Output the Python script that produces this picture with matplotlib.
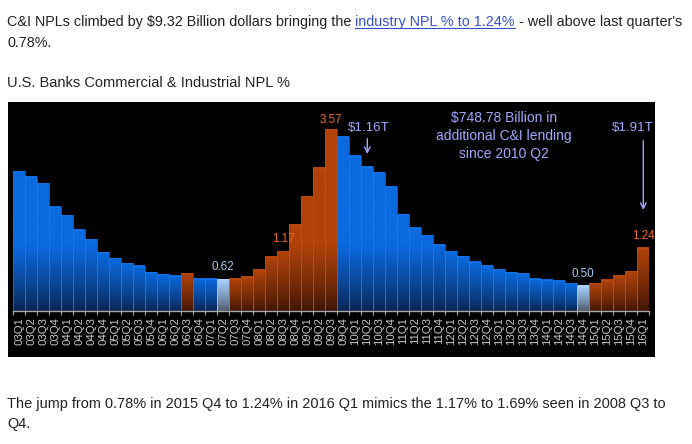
import matplotlib
matplotlib.use("Agg")
import matplotlib.pyplot as plt
import numpy as np
from matplotlib.colors import LinearSegmentedColormap
from matplotlib.patches import Rectangle
from matplotlib.lines import Line2D

plt.rcParams['font.family'] = ['Liberation Sans', 'DejaVu Sans']

######################################################################
# DATA  (C&I non-performing loans, % of loans, 2003 Q1 .. 2016 Q1)

quarters = ["%02dQ%d" % (y, q) for y in range(3, 16) for q in range(1, 5)] + ["16Q1"]

npl_pct = [2.75, 2.64, 2.51, 2.05,
           1.88, 1.60, 1.41, 1.15,
           1.04, 0.94, 0.89, 0.76,
           0.72, 0.69, 0.74, 0.63,
           0.63, 0.62, 0.63, 0.67,
           0.81, 1.07, 1.17, 1.69,
           2.25, 2.81, 3.57, 3.42,
           3.05, 2.83, 2.72, 2.44,
           1.90, 1.64, 1.49, 1.30,
           1.17, 1.08, 0.97, 0.89,
           0.82, 0.76, 0.74, 0.63,
           0.61, 0.59, 0.55, 0.50,
           0.55, 0.61, 0.69, 0.78,
           1.24]

# b = falling (blue), o = rising (orange), l = local low (light blue)
bar_kind = (["b"] * 14 + ["o"] + ["b"] * 2 + ["l"] + ["o"] * 9
            + ["b"] * 20 + ["l"] + ["o"] * 5)

labelled = {26: "3.57", 22: "1.17", 17: "0.62", 47: "0.50", 52: "1.24"}

######################################################################
# FIGURE

W, H = 692, 444
fig = plt.figure(figsize=(W / 100, H / 100), dpi=100)
fig.patch.set_facecolor("white")

def fx(px):
    return px / W

def fy(py):
    return 1 - py / H

# black chart panel
bg = fig.add_axes([fx(8), fy(357), (655 - 8) / W, (357 - 102) / H], zorder=0)
bg.set_facecolor("black")
bg.set_xticks([])
bg.set_yticks([])
for s in bg.spines.values():
    s.set_visible(False)

ax = fig.add_axes([fx(13.3), fy(311), (649.3 - 13.3) / W, (311 - 102) / H], zorder=1)
ax.patch.set_alpha(0)

top_col = {"b": "#0a6ade", "o": "#b0420a", "l": "#a8d2ff"}
bot_col = {"b": "#0a2450", "o": "#3e1505", "l": "#4a5668"}
edge_col = {"b": "#1a78ee", "o": "#c05010", "l": "#b8dcff"}
cmaps = {k: LinearSegmentedColormap.from_list(k, [bot_col[k], top_col[k]]) for k in top_col}

for i, (h, k) in enumerate(zip(npl_pct, bar_kind)):
    ys = np.linspace(0, h, 80)
    t = np.clip(ys / min(h, 1.3), 0, 1) ** 0.8
    ax.imshow(t[:, None], cmap=cmaps[k], vmin=0, vmax=1, origin="lower",
              extent=(i - 0.5, i + 0.5, 0, h), aspect="auto",
              interpolation="bilinear", zorder=2)
    ax.add_patch(Rectangle((i - 0.5, 0), 1, h, fill=False, ec=edge_col[k],
                           lw=0.5, zorder=3))

ax.set_xlim(-0.5, len(npl_pct) - 0.5)
ax.set_ylim(0, 209 / 50.9)

for s in ["top", "left", "right"]:
    ax.spines[s].set_visible(False)
ax.spines["bottom"].set_color("#a8a8a8")
ax.spines["bottom"].set_linewidth(1.0)
ax.set_yticks([])
ax.set_xticks(range(len(quarters)))
ax.set_xticklabels(quarters, rotation=90, fontsize=8.2, color="#c8c8c8")
ax.tick_params(axis="x", which="major", length=0, pad=4.5)
ax.set_xticks(np.arange(-0.5, len(quarters)), minor=True)
ax.tick_params(axis="x", which="minor", length=3, color="#a8a8a8", width=0.8)

# value labels
for i, s in labelled.items():
    k = bar_kind[i]
    c = "#f06a20" if k == "o" else "#a8c8f0"
    gap = 6 if i == 26 else 9
    ax.annotate(s, xy=(i, npl_pct[i]), xytext=(0, gap), textcoords="offset pixels",
                ha="center", va="baseline", color=c, fontsize=8.4, zorder=5)

# lending notes
lav = "#a4a8ff"
ax.text(29.1, 3.6, "$1.16T", ha="center", va="center", color=lav, fontsize=9.6)
ax.annotate("", xy=(29, 3.03), xytext=(29, 3.44),
            arrowprops=dict(arrowstyle="->", color=lav, lw=1))
ax.text(51.1, 3.6, "$1.91T", ha="center", va="center", color=lav, fontsize=9.6)
ax.annotate("", xy=(52, 1.93), xytext=(52, 3.40),
            arrowprops=dict(arrowstyle="->", color=lav, lw=1))
ax.text(40.4, 3.44, "$748.78 Billion in\nadditional C&I lending\nsince 2010 Q2",
        ha="center", va="center", color=lav, fontsize=10, linespacing=1.35)

######################################################################
# PAGE TEXT

renderer = fig.canvas.get_renderer()
txt_col = "#222222"

def width(s, size):
    t = fig.text(0, 0, s, fontsize=size)
    w = t.get_window_extent(renderer).width
    t.remove()
    return w

def fit_size(s, target):
    return 10 * target / width(s, 10)

part1 = "C&I NPLs climbed by $9.32 Billion dollars bringing the "
link = "industry NPL % to 1.24%"
part3 = " - well above last quarter's"
full = part1 + link + part3
sz = fit_size(full, 676)

x0 = 7
x_link = x0 + width(part1 + link, sz) - width(link, sz)
x_p3 = x0 + width(full, sz) - width(part3.lstrip(), sz)
fig.text(fx(x0), fy(26), part1.rstrip(), fontsize=sz, color=txt_col, va="baseline")
fig.text(fx(x_link), fy(26), link, fontsize=sz, color="#3452cc", va="baseline")
fig.text(fx(x_p3), fy(26), part3.lstrip(), fontsize=sz, color=txt_col, va="baseline")
wl = width(link, sz)
fig.lines.append(Line2D([fx(x_link), fx(x_link + wl)], [fy(28), fy(28)],
                        transform=fig.transFigure, color="#3452cc", lw=0.8))
fig.text(fx(x0), fy(47), "0.78%.", fontsize=sz, color=txt_col, va="baseline")

title = "U.S. Banks Commercial & Industrial NPL %"
fig.text(fx(x0), fy(87), title, fontsize=fit_size(title, 281), color=txt_col,
         va="baseline")

bottom = "The jump from 0.78% in 2015 Q4 to 1.24% in 2016 Q1 mimics the 1.17% to 1.69% seen in 2008 Q3 to"
bsz = fit_size(bottom, 658)
fig.text(fx(x0), fy(408), bottom, fontsize=bsz, color=txt_col, va="baseline")
fig.text(fx(x0), fy(428), "Q4.", fontsize=bsz, color=txt_col, va="baseline")

fig.savefig("out.png", dpi=100, facecolor="white")
